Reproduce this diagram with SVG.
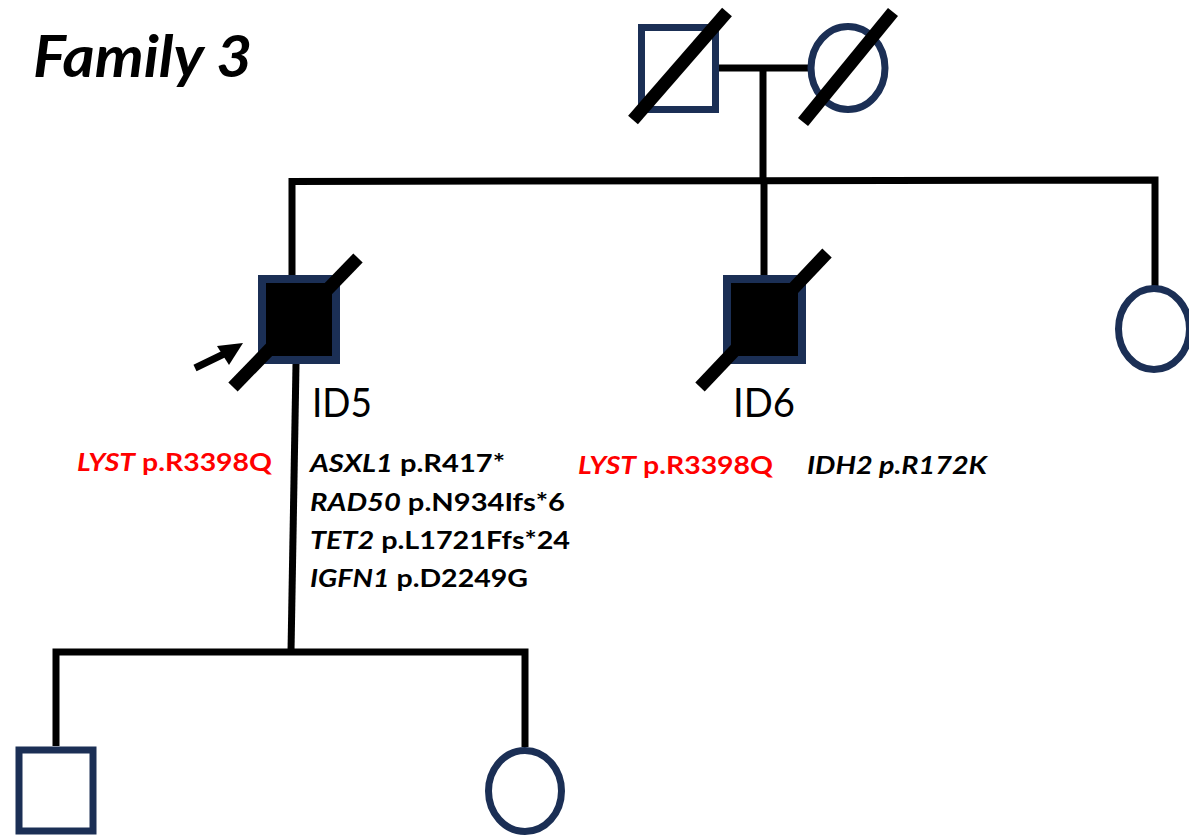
<svg xmlns="http://www.w3.org/2000/svg" width="1189" height="835" viewBox="0 0 1189 835">
<style>
.ln{stroke:#000;stroke-width:7;fill:none;stroke-linejoin:miter;stroke-linecap:butt}
.sl{stroke:#000;stroke-width:13;stroke-linecap:butt}
.open{fill:#fff;stroke:#1b2f55;stroke-width:7}
.aff{fill:#000;stroke:#1b2f55;stroke-width:8}
.t{font-family:Lato,"Open Sans","Liberation Sans",sans-serif}
.mut{font-size:25px;font-weight:bold}
.red{fill:#ff0000}
.blk{fill:#000}
</style>
<rect width="1189" height="835" fill="#fff"/>
<text class="t" x="33" y="77" font-size="57" font-weight="bold" font-style="italic" textLength="219" lengthAdjust="spacingAndGlyphs">Family 3</text>
<g id="connectors">
<line class="ln" x1="715" y1="68" x2="808" y2="68"/>
<line class="ln" x1="763" y1="68" x2="763" y2="181"/>
<polyline class="ln" points="292,275 292,181.5 1155,180 1155,287"/>
<line class="ln" x1="764" y1="181" x2="764" y2="275"/>
<line class="ln" x1="296" y1="364" x2="291" y2="652"/>
<polyline class="ln" points="56,746 56,652 525,652 525,747"/>
<line class="ln" x1="195" y1="368" x2="228" y2="352"/>
<polygon points="243,343 217,346 229,365" fill="#000"/>
</g>
<g id="father">
<rect class="open" x="641.5" y="27.5" width="74" height="82"/>
<line class="sl" x1="633" y1="120" x2="727" y2="12"/>
</g>
<g id="mother">
<ellipse class="open" cx="848" cy="68" rx="37" ry="41.5"/>
<line class="sl" x1="803" y1="122" x2="893" y2="12"/>
</g>
<g id="id5">
<rect class="aff" x="262" y="279" width="74" height="81"/>
<line class="sl" x1="233" y1="387" x2="358" y2="258"/>
<text class="t" x="312" y="417" font-size="40" textLength="60" lengthAdjust="spacingAndGlyphs">ID5</text>
</g>
<g id="id6">
<rect class="aff" x="727" y="279" width="75" height="81"/>
<line class="sl" x1="700" y1="387" x2="827" y2="253"/>
<text class="t" x="733" y="417" font-size="40" textLength="62" lengthAdjust="spacingAndGlyphs">ID6</text>
</g>
<g id="sister">
<ellipse class="open" cx="1154" cy="329" rx="35.5" ry="40.5"/>
</g>
<g id="son">
<rect class="open" x="19" y="750" width="74" height="81" stroke-width="8"/>
</g>
<g id="daughter">
<ellipse class="open" cx="525" cy="791" rx="36.5" ry="40.5" stroke-width="8"/>
</g>
<g id="labels">
<text class="t mut red" x="77" y="471" textLength="195" lengthAdjust="spacingAndGlyphs"><tspan font-style="italic">LYST</tspan> p.R3398Q</text>
<text class="t mut blk" x="310" y="472" textLength="195" lengthAdjust="spacingAndGlyphs"><tspan font-style="italic">ASXL1</tspan> p.R417*</text>
<text class="t mut blk" x="310" y="511" textLength="255" lengthAdjust="spacingAndGlyphs"><tspan font-style="italic">RAD50</tspan> p.N934Ifs*6</text>
<text class="t mut blk" x="310" y="549" textLength="260" lengthAdjust="spacingAndGlyphs"><tspan font-style="italic">TET2</tspan> p.L1721Ffs*24</text>
<text class="t mut blk" x="310" y="587" textLength="218" lengthAdjust="spacingAndGlyphs"><tspan font-style="italic">IGFN1</tspan> p.D2249G</text>
<text class="t mut red" x="578" y="474" textLength="195" lengthAdjust="spacingAndGlyphs"><tspan font-style="italic">LYST</tspan> p.R3398Q</text>
<text class="t mut blk" x="807" y="474" font-style="italic" textLength="180" lengthAdjust="spacingAndGlyphs">IDH2 p.R172K</text>
</g>
</svg>
